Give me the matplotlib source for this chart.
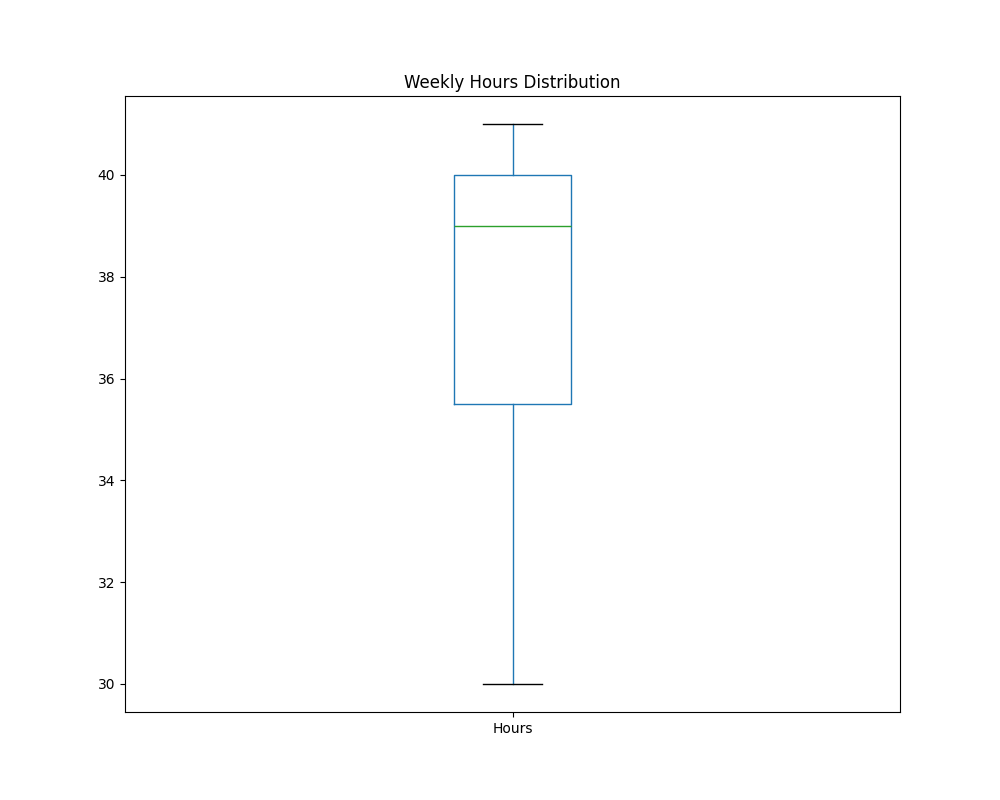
import matplotlib
matplotlib.use("Agg")
import matplotlib.pyplot as plt
import pandas as pd

# weekly hours, chosen so the quartiles match the chart (30, 35.5, 39, 40, 41)
hours = [30, 35, 36, 39, 40, 40, 41]

df = pd.DataFrame({"Hours": hours})

fig, ax = plt.subplots(figsize=(10, 8), dpi=100)
df.plot.box(ax=ax, color={"boxes": "tab:blue", "whiskers": "tab:blue",
                          "medians": "tab:green", "caps": "black"})
ax.set_title("Weekly Hours Distribution")

plt.savefig("out.png")
